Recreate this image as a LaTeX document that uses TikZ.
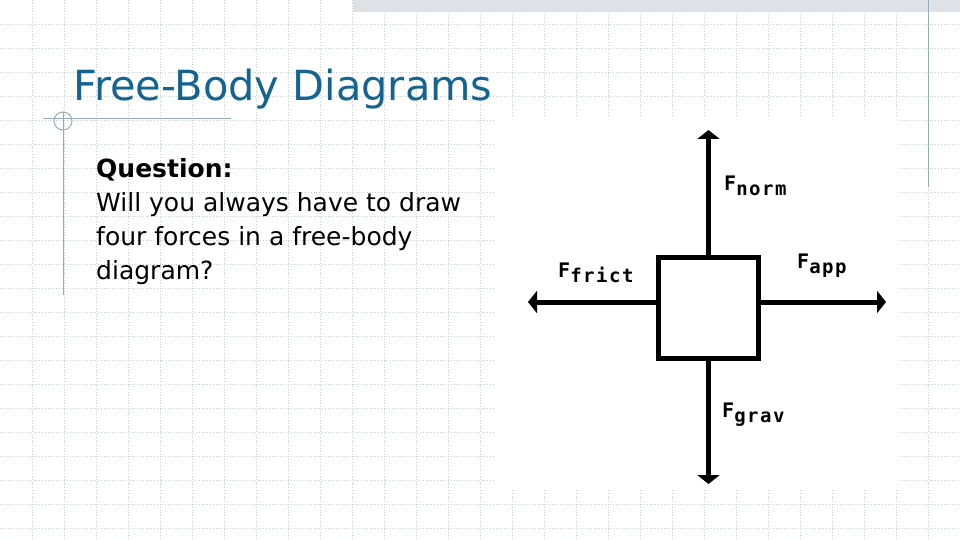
\documentclass[tikz,border=0pt]{standalone}
\usepackage{fontspec}
\setmainfont{DejaVu Sans}
\newfontfamily\lbl[LetterSpace=8]{DejaVu Sans Mono}
\usetikzlibrary{arrows.meta}
\definecolor{gridc}{RGB}{200,205,212}
\definecolor{titlec}{RGB}{20,100,145}
\definecolor{linec}{RGB}{150,170,190}
\tikzset{force/.style={line width=5pt,-{Triangle[width=22pt,length=9pt]}},
 lab/.style={anchor=south west,inner sep=0pt,font=\lbl\bfseries\fontsize{20}{20}\selectfont}}
\newcommand{\fl}[1]{F\raisebox{-5pt}{\fontsize{19}{19}\selectfont #1}}
\begin{document}
\begin{tikzpicture}[x=1pt,y=-1pt]
\useasboundingbox (0,0) rectangle (960,540);
\fill[white] (0,0) rectangle (960,540);
\foreach \i in {1,...,29} \draw[gridc,dotted,line width=0.8pt] (\i*32+0.7,0)--(\i*32+0.7,540);
\foreach \j in {1,...,22} \draw[gridc,dotted,line width=0.8pt] (0,\j*24+0.7)--(960,\j*24+0.7);
\fill[gridc!60] (353,0) rectangle (960,12);
\fill[white] (495,118) rectangle (897,490);
\draw[linec,line width=1pt] (928,0)--(928,187);
\draw[linec,line width=1pt] (43,119)--(231,119);
\draw[linec,line width=1pt] (63,112)--(63,295);
\draw[linec,line width=1pt] (63,121) circle (9);
\node[anchor=base west,inner sep=0pt,text=titlec,font=\fontsize{41.5}{41.5}\selectfont] (title) at (73,101) {Free-Body Diagrams};
\node[anchor=north west,inner sep=0pt,align=left,font=\fontsize{25}{34}\selectfont] (q) at (96,158)
 {\textbf{Question:}\\Will you always have to draw\\four forces in a free-body\\diagram?};
\node[draw,line width=5pt,minimum width=100pt,minimum height=101pt,inner sep=0pt] (box) at (708.5,307.5) {};
\coordinate (top) at (708.5,130);
\coordinate (bot) at (708.5,484);
\coordinate (lft) at (528,302);
\coordinate (rgt) at (886,302);
\draw[force] (box.north) -- (top);
\draw[force] (box.south) -- (bot);
\draw[force] (box.west) ++(0,-5.5) -- (lft);
\draw[force] (box.east) ++(0,-5.5) -- (rgt);
\node[lab] (fn) at (724,196) {\fl{norm}};
\node[lab] (ff) at (558,283) {\fl{frict}};
\node[lab] (fa) at (797,278) {\fl{app}};
\node[lab] (fg) at (722,427) {\fl{grav}};
\end{tikzpicture}
\end{document}
